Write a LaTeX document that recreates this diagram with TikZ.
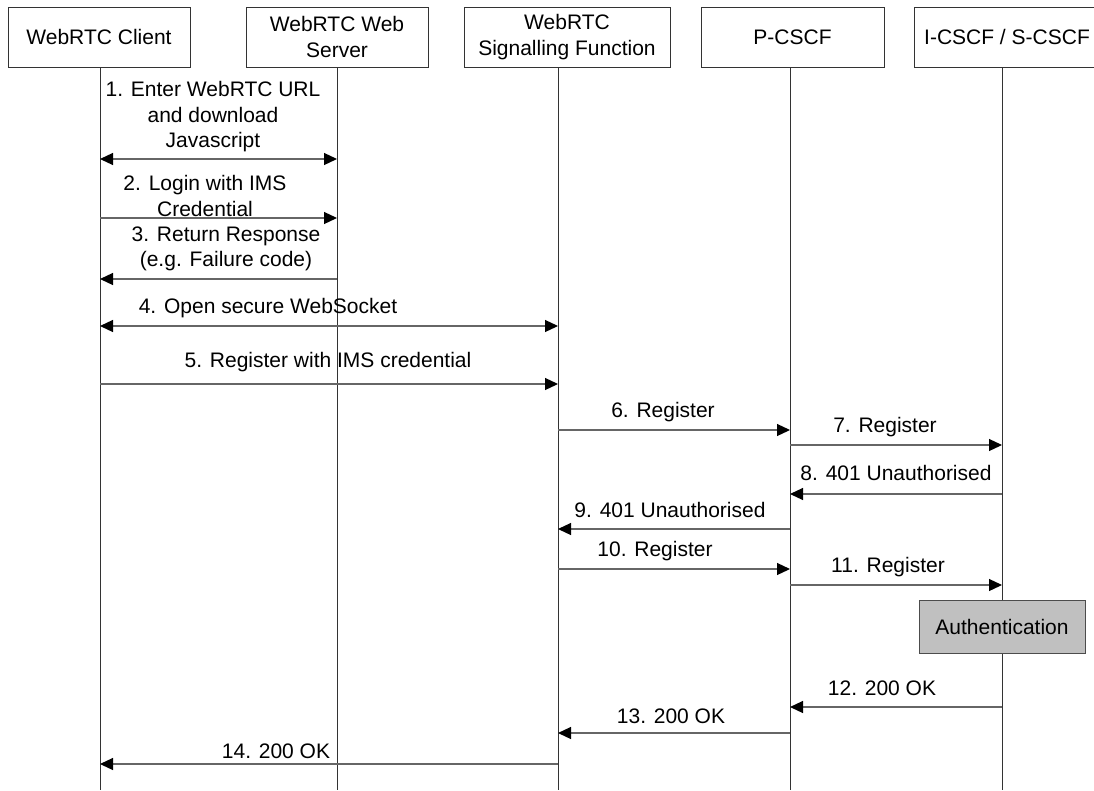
\documentclass[tikz,border=0pt]{standalone}
\usepackage{fontspec}
\setmainfont{Liberation Sans}
\usetikzlibrary{arrows.meta}
\definecolor{authgray}{RGB}{192,192,192}
\begin{document}
\begin{tikzpicture}[x=1pt,y=-1pt,
  actor/.style={draw=black!80, line width=0.8pt, minimum height=60pt, inner sep=2pt, align=center, font=\fontsize{21}{26}\selectfont},
  life/.style={draw=black!80, line width=0.8pt},
  tip/.tip={Triangle[length=13pt,width=12pt,color=black]},
  msg/.style={draw=black!60, line width=1.2pt, -tip},
  msgboth/.style={draw=black!60, line width=1.2pt, tip-tip},
  lbl/.style={align=center, inner sep=0pt, font=\fontsize{21}{25.5}\selectfont},
]
\useasboundingbox (0,0) rectangle (1094,790);
\clip (0,0) rectangle (1094,790);

% header boxes
\node[actor, minimum width=182pt] (client) at (99,37) {WebRTC Client};
\node[actor, minimum width=182pt] (web) at (337,37) {WebRTC Web\\Server};
\node[actor, minimum width=206pt] (sig) at (567,37) {WebRTC\\Signalling Function};
\node[actor, minimum width=183pt] (pcscf) at (792.5,37) {P-CSCF};
\node[actor, minimum width=186pt] (icscf) at (1007,37) {I-CSCF / S-CSCF};

% lifelines
\coordinate (Lc) at (100,67);
\coordinate (Lw) at (337,67);
\coordinate (Ls) at (558,67);
\coordinate (Lp) at (790,67);
\coordinate (Li) at (1002,67);
\coordinate (Bc) at (100,790);
\coordinate (Bw) at (337,790);
\coordinate (Bs) at (558,790);
\coordinate (Bp) at (790,790);
\coordinate (Bi) at (1002,790);
\draw[life] (Lc) -- (Bc);
\draw[life] (Lw) -- (Bw);
\draw[life] (Ls) -- (Bs);
\draw[life] (Lp) -- (Bp);
\draw[life] (Li) -- (Bi);

% authentication box
\node[draw=black!70, fill=authgray, line width=0.8pt, minimum width=166pt, minimum height=53pt, font=\fontsize{21}{25}\selectfont] (auth) at (1002,626.5) {Authentication};

% messages
\draw[msgboth] (Lc |- 0,159) -- (Lw |- 0,159);
\node[lbl] (t1) at (213,117) {1. Enter WebRTC URL\\and download\\Javascript};

\draw[msg] (Lc |- 0,218) -- (Lw |- 0,218);
\node[lbl] (t2) at (205,196) {2. Login with IMS\\Credential};

\draw[msg] (Lw |- 0,279) -- (Lc |- 0,279);
\node[lbl] (t3) at (226,249) {3. Return Response\\(e.g. Failure code)};

\draw[msgboth] (Lc |- 0,326) -- (Ls |- 0,326);
\node[lbl] (t4) at (268,308) {4. Open secure WebSocket};

\draw[msg] (Lc |- 0,384) -- (Ls |- 0,384);
\node[lbl] (t5) at (328,362) {5. Register with IMS credential};

\draw[msg] (Ls |- 0,430) -- (Lp |- 0,430);
\node[lbl] (t6) at (663,412) {6. Register};

\draw[msg] (Lp |- 0,445) -- (Li |- 0,445);
\node[lbl] (t7) at (885,427) {7. Register};

\draw[msg] (Li |- 0,494) -- (Lp |- 0,494);
\node[lbl] (t8) at (896,473) {8. 401 Unauthorised};

\draw[msg] (Lp |- 0,529) -- (Ls |- 0,529);
\node[lbl] (t9) at (670,510) {9. 401 Unauthorised};

\draw[msg] (Ls |- 0,569) -- (Lp |- 0,569);
\node[lbl] (t10) at (655,551) {10. Register};

\draw[msg] (Lp |- 0,585) -- (Li |- 0,585);
\node[lbl] (t11) at (888,567) {11. Register};

\draw[msg] (Li |- 0,707) -- (Lp |- 0,707);
\node[lbl] (t12) at (882,688) {12. 200 OK};

\draw[msg] (Lp |- 0,733) -- (Ls |- 0,733);
\node[lbl] (t13) at (671,716) {13. 200 OK};

\draw[msg] (Ls |- 0,764) -- (Lc |- 0,764);
\node[lbl] (t14) at (276,751) {14. 200 OK};
\end{tikzpicture}
\end{document}
